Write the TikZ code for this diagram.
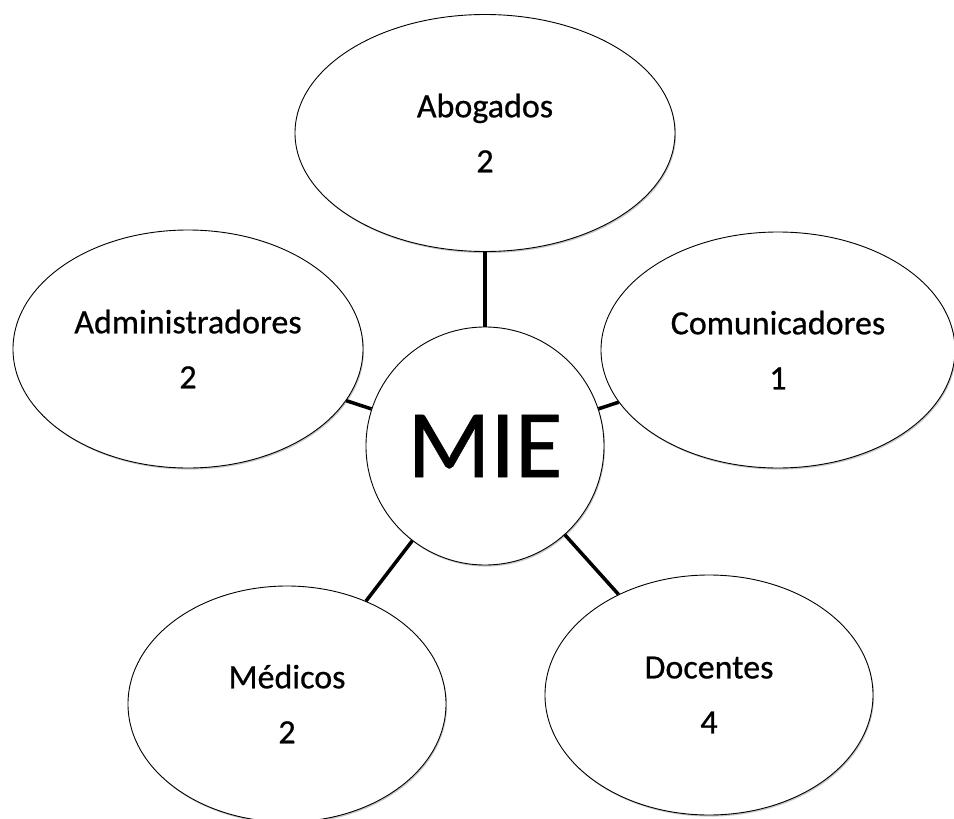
\documentclass[tikz,border=0pt]{standalone}
\usepackage{fontspec}
\setmainfont{Carlito}
\newfontfamily\lblfont[FakeBold=0.6]{Carlito}
\usetikzlibrary{shapes.geometric,shadows}
\begin{document}
\begin{tikzpicture}[x=1pt,y=-1pt,
  softshadow/.style={drop shadow={shadow xshift=1pt, shadow yshift=-1.6pt, opacity=0.22, fill=black}},
  bubble/.style={ellipse, draw=black, line width=0.9pt, fill=white, inner sep=0pt,
    align=center, font=\lblfont\fontsize{34}{55}\selectfont, softshadow},
  hub/.style={circle, draw=black, line width=0.9pt, fill=white, inner sep=0pt,
    minimum size=238pt, font=\lblfont\fontsize{97}{97}\selectfont, softshadow},
  link/.style={line width=3.5pt, draw=black}]
\useasboundingbox[fill=white] (0,0) rectangle (954,819);
\node[bubble, minimum width=380pt, minimum height=237pt] (abog) at (485,133) {Abogados\\2};
\node[bubble, minimum width=350pt, minimum height=238pt] (admin) at (188,349) {Administradores\\2};
\node[bubble, minimum width=354pt, minimum height=236pt] (comun) at (778,350) {Comunicadores\\1};
\node[bubble, minimum width=318pt, minimum height=236pt] (medic) at (287,704) {Médicos\\2};
\node[bubble, minimum width=328pt, minimum height=240pt] (docen) at (709,695) {Docentes\\4};
\node[hub] (mie) at (485,446) {MIE};
\draw[link] (abog) -- (mie);
\draw[link] (admin) -- (mie);
\draw[link] (comun) -- (mie);
\draw[link] (medic) -- (mie);
\draw[link] (docen) -- (mie);
\end{tikzpicture}
\end{document}
